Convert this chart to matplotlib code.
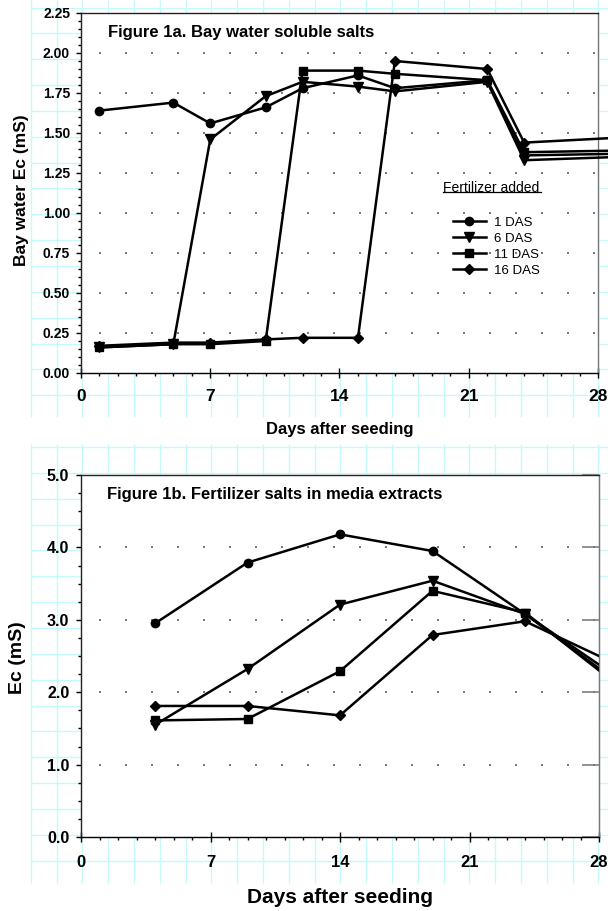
import matplotlib
matplotlib.use('Agg')
import matplotlib.pyplot as plt
import numpy as np
from matplotlib.lines import Line2D
from matplotlib.ticker import MultipleLocator

plt.rcParams['font.family'] = ['Liberation Sans', 'DejaVu Sans']

# ---------------- data ----------------
# Figure 1a: bay water soluble salts (mS) vs days after seeding
days_a = [1, 5, 7, 10, 12, 15, 17, 22, 24, 29]
a_1das = [1.64, 1.69, 1.56, 1.66, 1.78, 1.86, 1.78, 1.83, 1.36, 1.37]
a_6das = [0.16, 0.18, 1.46, 1.73, 1.82, 1.79, 1.76, 1.82, 1.33, 1.35]
a_11das = [0.16, 0.18, 0.18, 0.20, 1.89, 1.89, 1.87, 1.83, 1.38, 1.39]
a_16das = [0.17, 0.19, 0.19, 0.21, 0.22, 0.22, 1.95, 1.90, 1.44, 1.47]

# Figure 1b: fertilizer salts in media extracts (mS)
days_b = [4, 9, 14, 19, 24, 28]
b_1das = [2.95, 3.79, 4.18, 3.95, 3.08, 2.33]
b_6das = [1.55, 2.32, 3.21, 3.54, 3.08, 2.38]
b_11das = [1.61, 1.63, 2.29, 3.40, 3.10, 2.30]
b_16das = [1.81, 1.81, 1.68, 2.79, 2.98, 2.50]

labels = ['1 DAS', '6 DAS', '11 DAS', '16 DAS']
markers = ['o', 'v', 's', 'D']
msizes = [6.0, 6.5, 5.8, 5.5]
x_ticks = [0, 7, 14, 21, 28]

# ---------------- layout helpers ----------------
W, H, DPI = 608, 911, 100
fig = plt.figure(figsize=(W / DPI, H / DPI), dpi=DPI, facecolor='white')


def fx(p):
    return p / W


def fy(p):
    return 1 - p / H


# background graph-paper grid (decoration)
bg = fig.add_axes([0, 0, 1, 1], zorder=-5)
bg.set_xlim(0, W)
bg.set_ylim(H, 0)
bg.axis('off')
cyan = '#c6fafa'
gx = 30.7 + 25.8 * np.arange(0, 23)
for (y0, y1, hstart, nh) in [(0, 417, 7.5, 16), (444, 883, 447.0, 17)]:
    bg.vlines(gx, y0, y1, color=cyan, lw=1.0)
    bg.hlines(hstart + 25.85 * np.arange(nh), 30.7, W, color=cyan, lw=1.0)

# ---------------- axes ----------------
ax1 = fig.add_axes([fx(81), fy(373), (598 - 81) / W, (373 - 13) / H])
ax2 = fig.add_axes([fx(81), fy(837), (599 - 81) / W, (837 - 475) / H])

dot_style = (4, (1, 12))
for ax in (ax1, ax2):
    ax.set_facecolor('white')
    ax.set_xlim(0, 28)
    ax.xaxis.set_major_locator(MultipleLocator(7))
    ax.xaxis.set_minor_locator(MultipleLocator(1))
    ax.tick_params(axis='x', which='major', direction='inout', length=6.5, width=1.0, colors='black')
    ax.tick_params(axis='x', which='minor', direction='out', length=2.3, width=1.0)
    ax.tick_params(axis='y', which='major', direction='out', length=3.6, width=1.0)
    ax.tick_params(axis='y', which='minor', direction='out', length=2.3, width=1.0)
    ax.spines['bottom'].set_color('black')
    ax.spines['left'].set_color('#222222')
    ax.spines['top'].set_color('#222222')
    ax.spines['right'].set_color('#777777')
    for s in ax.spines.values():
        s.set_linewidth(1.0)

# ---- Figure 1a ----
ax1.set_ylim(0, 2.25)
ax1.yaxis.set_major_locator(MultipleLocator(0.25))
ax1.yaxis.set_minor_locator(MultipleLocator(0.05))
ax1.set_xticks(x_ticks)
ax1.set_xticklabels([str(v) for v in x_ticks], fontsize=12.5, fontweight='bold')
ax1.set_yticks(np.arange(0, 2.26, 0.25))
ax1.set_yticklabels(['%.2f' % v for v in np.arange(0, 2.26, 0.25)], fontsize=10, fontweight='bold')
ax1.tick_params(axis='x', which='major', pad=8.5)
ax1.tick_params(axis='y', which='major', pad=4.3)
ax1.yaxis.grid(True, which='major', color='#7a7a7a', lw=1.44, linestyle=dot_style)
ticks = ax1.yaxis.get_major_ticks()
ticks[0].gridline.set_visible(False)
ticks[-1].gridline.set_visible(False)

for vals, m, ms, lab in zip([a_1das, a_6das, a_11das, a_16das], markers, msizes, labels):
    ax1.plot(days_a, vals, color='black', lw=1.8, marker=m, ms=ms,
             markevery=list(range(len(days_a) - 1)), clip_on=False, zorder=3, label=lab)

leg_handles = [Line2D([0], [0], color='black', lw=1.8, marker=m, ms=ms) for m, ms in zip(markers, msizes)]
leg = ax1.legend(leg_handles, labels, loc='upper left', bbox_to_anchor=(fx(452.7), fy(216.5)),
                 bbox_transform=fig.transFigure, frameon=False, fontsize=9.5, borderpad=0,
                 handlelength=2.5, handletextpad=0.6, labelspacing=0.28, borderaxespad=0)

fig.text(fx(443), fy(192.5), 'Fertilizer added', fontsize=10, ha='left', va='baseline')
fig.add_artist(Line2D([fx(443), fx(541)], [fy(192), fy(192)], color='black', lw=0.9))

fig.text(fx(108), fy(32.5), 'Figure 1a. Bay water soluble salts', fontsize=12, fontweight='bold',
         ha='left', va='center')
fig.text(fx(21.5), fy(190), 'Bay water Ec (mS)', fontsize=12.5, fontweight='bold', rotation=90,
         ha='center', va='center')
fig.text(fx(339.5), fy(430), 'Days after seeding', fontsize=12, fontweight='bold', ha='center', va='center')

# ---- Figure 1b ----
ax2.set_ylim(0, 5.0)
ax2.yaxis.set_major_locator(MultipleLocator(1.0))
ax2.yaxis.set_minor_locator(MultipleLocator(0.25))
ax2.set_xticks(x_ticks)
ax2.set_xticklabels([str(v) for v in x_ticks], fontsize=12, fontweight='bold')
ax2.set_yticks(np.arange(0, 5.01, 1.0))
ax2.set_yticklabels(['%.1f' % v for v in np.arange(0, 5.01, 1.0)], fontsize=11.5, fontweight='bold')
ax2.tick_params(axis='x', which='major', pad=10)
ax2.tick_params(axis='y', which='major', pad=4.8)
ax2.yaxis.grid(True, which='major', color='#7a7a7a', lw=1.44, linestyle=dot_style)
ticks = ax2.yaxis.get_major_ticks()
ticks[0].gridline.set_visible(False)
ticks[-1].gridline.set_visible(False)

sec = ax2.secondary_yaxis('right')
sec.set_yticks(np.arange(0, 5.01, 1.0))
sec.tick_params(axis='y', which='major', direction='in', length=12, width=1.3, colors='#8a8a8a',
                labelright=False)
sec.tick_params(axis='y', which='minor', right=False)
sec.spines['right'].set_color('#8aa0a8')

for vals, m, ms in zip([b_1das, b_6das, b_11das, b_16das], markers, msizes):
    ax2.plot(days_b, vals, color='black', lw=1.8, marker=m, ms=ms,
             markevery=list(range(len(days_b) - 1)), zorder=3)

fig.text(fx(107), fy(495), 'Figure 1b. Fertilizer salts in media extracts', fontsize=12,
         fontweight='bold', ha='left', va='center')
fig.text(fx(17), fy(658), 'Ec (mS)', fontsize=14, fontweight='bold', rotation=90,
         ha='center', va='center')
fig.text(fx(340), fy(897.5), 'Days after seeding', fontsize=15, fontweight='bold', ha='center', va='center')

fig.savefig('out.png', dpi=DPI, facecolor='white')
